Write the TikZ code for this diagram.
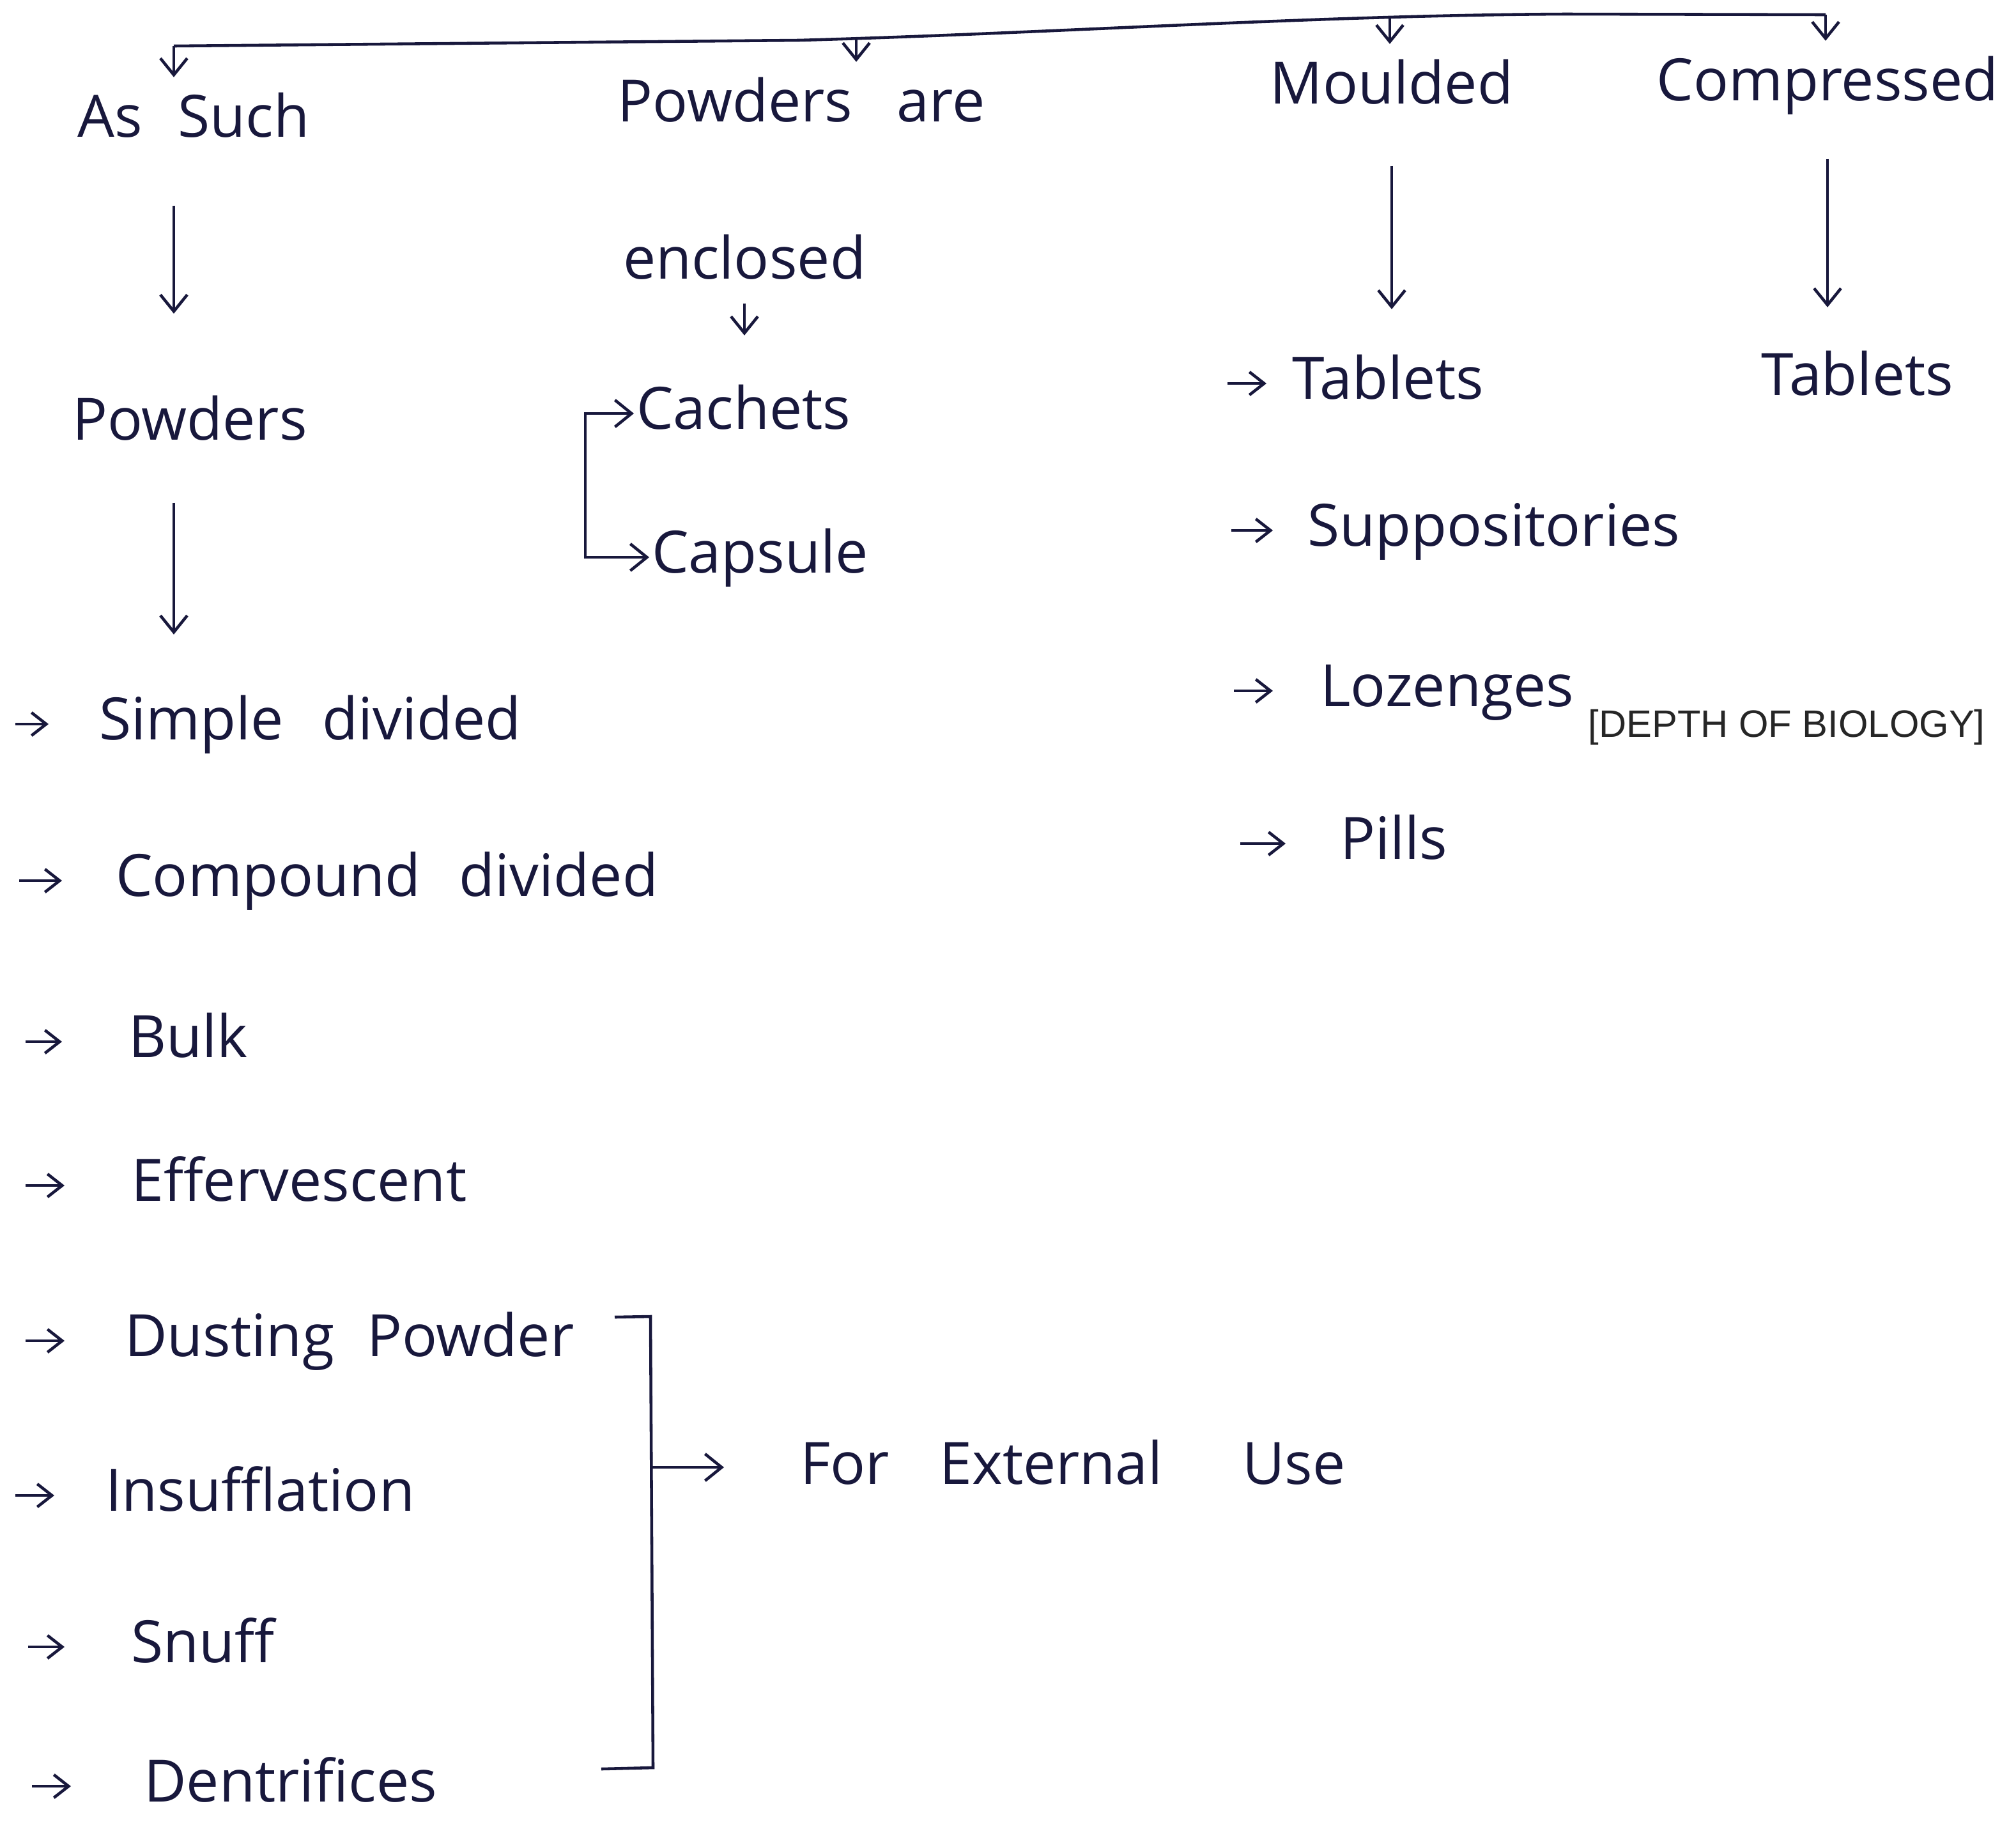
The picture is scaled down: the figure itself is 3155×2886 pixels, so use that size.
\documentclass[tikz,border=0pt]{standalone}
\usepackage{fontspec}
\setmainfont{Open Sans}
\newfontfamily\tagfont{Liberation Sans}
\usetikzlibrary{arrows.meta,calc}
\definecolor{ink}{RGB}{24,24,60}

\begin{document}
\fontsize{26}{30}\selectfont
\begin{tikzpicture}[x=0.1mm, y=-0.1mm,
  lbl/.style={text=ink, font=\fontsize{26}{30}\selectfont, inner sep=1pt, anchor=mid},
  item/.style={lbl, anchor=mid west},
  ar/.style={draw=ink, line width=1.3pt, -{Straight Barb[length=2.6mm,width=4.2mm]}},
  bul/.style={draw=ink, line width=1.3pt, -{Straight Barb[length=2.3mm,width=3.6mm]}},
  brk/.style={draw=ink, line width=1.3pt},
  tag/.style={font=\tagfont\fontsize{17}{20}\selectfont, text=black!85, inner sep=0pt},
]
\useasboundingbox (0,0) rectangle (3155,2886);

% top branch
\coordinate (t1) at (272,72);
\coordinate (t2) at (1340,61);
\coordinate (t3) at (2175,28);
\coordinate (t4) at (2857,23);
\draw[brk] (t1) -- (1250,63) .. controls (1650,52) and (2050,24) .. (2450,22) -- (t4);

\node[lbl] (assuch) at (303,190) {As\hspace{0.35em} Such};
\node[lbl] (powdersare) at (1254,166) {Powders\hspace{0.5em} are};
\node[lbl] (moulded) at (2178,138) {Moulded};
\node[lbl] (compressed) at (2860,133) {Compressed};
\draw[ar, shorten >=2mm] (t1) -- (t1 |- assuch.north);
\draw[ar, shorten >=2mm] (t2) -- (t2 |- powdersare.north);
\draw[ar, shorten >=2mm] (t3) -- (t3 |- moulded.north);
\draw[ar, shorten >=2mm] (t4) -- (t4 |- compressed.north);

% as such
\node[lbl] (powders) at (297,664) {Powders};
\draw[ar, shorten <=10.2mm, shorten >=12.4mm] (t1 |- assuch.south) -- (t1 |- powders.north);
\node[item] (simple) at (151,1133) {Simple\hspace{0.4em} divided};
\node[item] (compound) at (177,1378) {Compound\hspace{0.4em} divided};
\node[item] (bulk) at (197,1630) {Bulk};
\node[item] (effer) at (201,1855) {Effervescent};
\node[item] (dusting) at (191,2098) {Dusting\hspace{0.3em} Powder};
\node[item] (insuff) at (161,2340) {Insufflation};
\node[item] (snuff) at (201,2577) {Snuff};
\node[item] (dentri) at (221,2795) {Dentrifices};
\draw[ar, shorten <=9.3mm, shorten >=9.1mm] (t1 |- powders.south) -- (t1 |- simple.north);
\foreach \n/\xa/\xb in {simple/24/76, compound/30/97, bulk/40/97, effer/40/101,
  dusting/40/101, insuff/24/85, snuff/44/101, dentri/50/111}
  \draw[bul] (\xa,0 |- \n.mid west) -- (\xb,0 |- \n.mid west);

% external use bracket
\node[item] (external) at (1248,2298) {For\hspace{0.6em} External\hspace{1.1em} Use};
\coordinate (bx) at (1020,2296);
\draw[brk] (962,2061) -- (1018,2060) -- (1022,2766) -- (941,2768);
\draw[ar, shorten >=11.5mm] (bx) -- (bx -| external.west);

% powders are enclosed
\node[lbl] (enclosed) at (1165,412) {enclosed};
\node[item] (cachets) at (992,647) {Cachets};
\node[item] (capsule) at (1016,872) {Capsule};
\draw[ar, shorten <=3.3mm, shorten >=7.3mm] (enclosed.south) -- (enclosed.south |- cachets.north);
\draw[ar] (916,0 |- capsule.mid west) |- (cachets.mid west);
\draw[ar] (916,0 |- cachets.mid west) |- (capsule.mid west);

% moulded
\node[item] (tabm) at (2018,600) {Tablets};
\node[item] (supp) at (2042,830) {Suppositories};
\node[item] (lozen) at (2062,1081) {Lozenges};
\node[item] (pills) at (2093,1320) {Pills};
\draw[ar, shorten <=9.2mm, shorten >=6.7mm] (moulded.south) -- (moulded.south |- tabm.north);
\foreach \n/\xa/\xb in {tabm/1921/1982, supp/1927/1992, lozen/1931/1992, pills/1941/2012}
  \draw[bul] (\xa,0 |- \n.mid west) -- (\xb,0 |- \n.mid west);

% compressed
\node[lbl] (tabc) at (2907,594) {Tablets};
\draw[ar, shorten <=6.5mm, shorten >=6.4mm] (compressed.south) -- (compressed.south |- tabc.north);

\node[tag] (mark) at (2796,1138) {[DEPTH OF BIOLOGY]};
\end{tikzpicture}
\end{document}
